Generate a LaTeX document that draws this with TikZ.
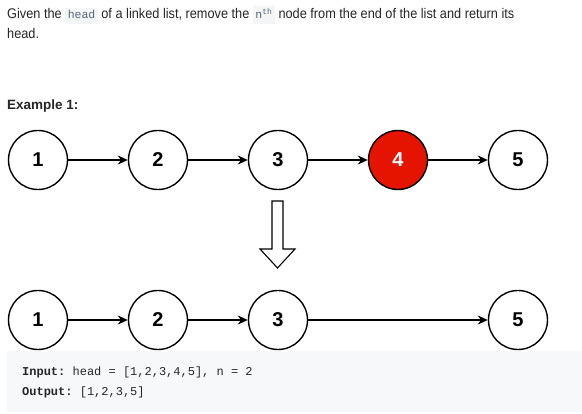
\documentclass[tikz,border=0pt]{standalone}
\usepackage{fontspec}
\setmainfont{Liberation Sans}
\setmonofont{Liberation Mono}
\newfontfamily\parafont[FakeStretch=0.91]{Liberation Sans}
\usetikzlibrary{arrows.meta}
\definecolor{txt}{HTML}{262626}
\definecolor{codefg}{HTML}{5A6878}
\definecolor{codebg}{HTML}{F3F5F7}
\definecolor{prebg}{HTML}{F7F8FA}
\definecolor{nodered}{HTML}{E51400}
\newcommand{\inlinecode}[1]{{\setlength{\fboxsep}{2.5pt}\colorbox{codebg}{\fontsize{11.5}{12}\selectfont\ttfamily\color{codefg}\vphantom{Hg}#1}}}
\begin{document}
\begin{tikzpicture}[x=1pt,y=-1pt,
  circ/.style={circle,draw=black,line width=1.4pt,minimum size=59pt,inner sep=0pt,fill=white,
    font=\fontsize{20}{20}\selectfont\bfseries},
  redcirc/.style={circ,fill=nodered,text=white},
  link/.style={-{Stealth[length=10pt,width=9pt]},line width=1.3pt},
  para/.style={anchor=base west,inner sep=0pt,text=txt,font=\parafont\fontsize{14}{20}\selectfont},
  heading/.style={anchor=base west,inner sep=0pt,text=txt,font=\fontsize{13.5}{16}\selectfont\bfseries},
  code/.style={anchor=base west,inner sep=0pt,text=txt,font=\fontsize{12}{12}\selectfont\ttfamily}]
\useasboundingbox (0,0) rectangle (582,414);
\fill[white] (0,0) rectangle (582,414);
% description
\node[para] (l1) at (7,19) {Given the \inlinecode{head} of a linked list, remove the \inlinecode{n\textsuperscript{th}} node from the end of the list and return its};
\node[para] (l2) at (7,39) {head.};
\node[heading] (ex) at (7,110) {Example 1:};
% row 1
\node[circ] (a1) at (38,160) {1};
\node[circ] (a2) at (158,160) {2};
\node[circ] (a3) at (278,160) {3};
\node[redcirc] (a4) at (398,160) {4};
\node[circ] (a5) at (518,160) {5};
\draw[link] (a1) -- (a2);
\draw[link] (a2) -- (a3);
\draw[link] (a3) -- (a4);
\draw[link] (a4) -- (a5);
% big arrow
\draw[line width=1.1pt,fill=white,line join=miter] (272,201) -- (283,201) -- (283,249) -- (295,249) -- (277.5,268) -- (260,249) -- (272,249) -- cycle;
% row 2
\node[circ] (b1) at (38,320) {1};
\node[circ] (b2) at (158,320) {2};
\node[circ] (b3) at (278,320) {3};
\node[circ] (b5) at (518,320) {5};
\draw[link] (b1) -- (b2);
\draw[link] (b2) -- (b3);
\draw[link] (b3) -- (b5);
% example box
\fill[prebg] (7,351) rectangle (582,412);
\node[code] (in) at (22,376) {\textbf{Input:} head = [1,2,3,4,5], n = 2};
\node[code] (out) at (22,396) {\textbf{Output:} [1,2,3,5]};
\end{tikzpicture}
\end{document}
